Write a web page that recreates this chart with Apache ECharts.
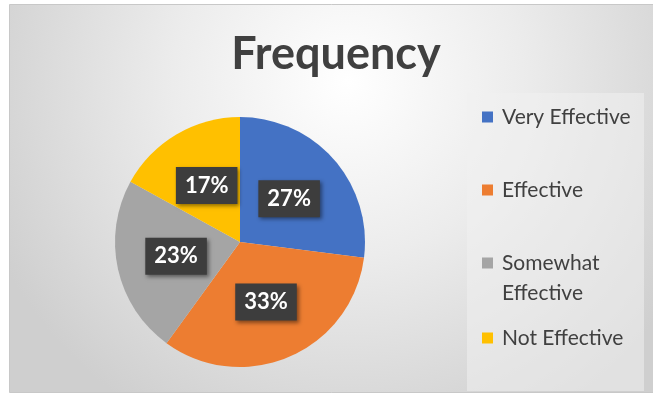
<!DOCTYPE html>
<html>
<head>
<meta charset="utf-8">
<script src="https://cdn.jsdelivr.net/npm/echarts@6/dist/echarts.min.js"></script>
<style>
html,body{margin:0;padding:0;background:#ffffff;}
#chart{width:653px;height:396px;}
</style>
</head>
<body>
<div id="chart"></div>
<script>
// ---- data ----
const categories = ['Very Effective', 'Effective', 'Somewhat Effective', 'Not Effective'];
const percentages = [27, 33, 23, 17];
const legendLines = [['Very Effective'], ['Effective'], ['Somewhat', 'Effective'], ['Not Effective']];
const chartTitle = 'Frequency';

// ---- styles / layout ----
const colors = ['#4472C4', '#ED7D31', '#A5A5A5', '#FFC000'];
const legendTops = [102, 175, 218, 323];
const FONT = 'Lato, "Open Sans", sans-serif';

const chart = echarts.init(document.getElementById('chart'), null, {renderer: 'canvas'});

const legends = categories.map((name, i) => {
  const lines = legendLines[i];
  let fmt;
  if (lines.length > 1) {
    fmt = '{b| }\n' + lines.map(l => '{a|' + l + '}').join('\n');
  } else {
    fmt = '{a|' + lines[0] + '}';
  }
  return {
    data: [name],
    orient: 'vertical',
    left: 482,
    top: legendTops[i],
    padding: 0,
    itemWidth: 11,
    itemHeight: 11,
    itemGap: 0,
    icon: 'rect',
    selectedMode: false,
    formatter: () => fmt,
    textStyle: {
      fontFamily: FONT,
      fontSize: 21,
      color: '#404040',
      lineHeight: 30,
      rich: {
        a: {fontFamily: FONT, fontSize: 21, color: '#404040', lineHeight: 30, padding: [0, 0, 0, 4]},
        b: {fontFamily: FONT, fontSize: 21, lineHeight: 30}
      }
    }
  };
});

chart.setOption({
  animation: false,
  color: colors,
  graphic: [
    {
      type: 'rect', z: -10, silent: true,
      shape: {x: 9.5, y: 4.5, width: 650, height: 388},
      style: {
        fill: {
          type: 'radial', x: 0.52, y: 0.2, r: 1.0,
          colorStops: [
            {offset: 0, color: '#ffffff'},
            {offset: 0.45, color: '#ececec'},
            {offset: 1, color: '#cfcfcf'}
          ]
        },
        stroke: '#c8c8c8', lineWidth: 1
      }
    },
    {
      type: 'rect', z: -9, silent: true,
      shape: {x: 467, y: 93, width: 177, height: 298},
      style: {fill: 'rgba(240,240,240,0.55)'}
    }
  ],
  title: {
    text: chartTitle,
    left: 331,
    textAlign: 'center',
    top: 27,
    textStyle: {fontFamily: FONT, fontSize: 45, fontWeight: 'bold', color: '#404040'}
  },
  legend: legends,
  series: [{
    type: 'pie',
    center: [240, 242],
    radius: 125,
    startAngle: 90,
    clockwise: true,
    data: categories.map((name, i) => ({name: name, value: percentages[i]})),
    itemStyle: {borderWidth: 0},
    label: {
      show: true,
      position: 'inside',
      formatter: '{c}%',
      fontFamily: FONT,
      fontSize: 22,
      fontWeight: 'bold',
      color: '#ffffff',
      backgroundColor: '#3d3d3d',
      padding: [8, 9, 7, 9],
      shadowColor: 'rgba(0,0,0,0.45)',
      shadowBlur: 4,
      shadowOffsetX: 2,
      shadowOffsetY: 2
    },
    labelLine: {show: false},
    emphasis: {disabled: true}
  }]
});
</script>
</body>
</html>
